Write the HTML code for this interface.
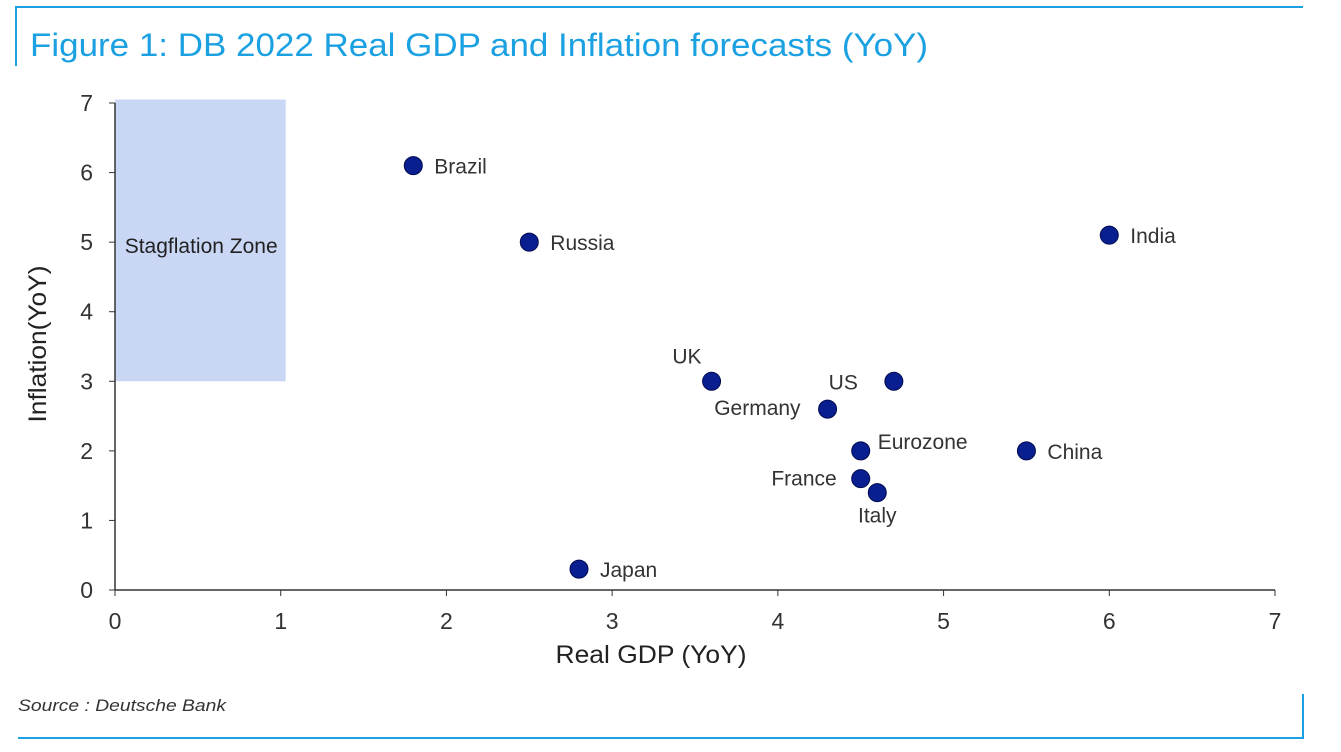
<!DOCTYPE html>
<html><head><meta charset="utf-8"><style>
body{margin:0;background:#fff;width:1341px;height:747px;overflow:hidden;font-family:"Liberation Sans",Arial,sans-serif}
</style></head><body>
<svg width="1341" height="747" xmlns="http://www.w3.org/2000/svg">
<line x1="15" y1="7" x2="1303" y2="7" stroke="#1ba1e2" stroke-width="2"/>
<line x1="16" y1="7" x2="16" y2="66" stroke="#1ba1e2" stroke-width="2"/>
<line x1="18" y1="738" x2="1304" y2="738" stroke="#1ba1e2" stroke-width="2"/>
<line x1="1303" y1="694" x2="1303" y2="738" stroke="#1ba1e2" stroke-width="2"/>
<text x="30" y="56" font-size="32" textLength="898" lengthAdjust="spacingAndGlyphs" fill="#1ba1e2">Figure 1: DB 2022 Real GDP and Inflation forecasts (YoY)</text>
<text x="18" y="711" font-size="17" textLength="208" lengthAdjust="spacingAndGlyphs" font-style="italic" fill="#333">Source : Deutsche Bank</text>
<g id="plot"></g>
</svg>
<script>
const names=["Brazil","Russia","India","UK","US","Germany","Eurozone","China","France","Italy","Japan"];
const gdp=[1.8,2.5,6.0,3.6,4.7,4.3,4.5,5.5,4.5,4.6,2.8];
const infl=[6.1,5.0,5.1,3.0,3.0,2.6,2.0,2.0,1.6,1.4,0.3];
const xTicks=[0,1,2,3,4,5,6,7];
const yTicks=[0,1,2,3,4,5,6,7];
const zone={x0:0,x1:1.03,y0:3,y1:7.05};
const X=v=>115+v*(1275-115)/7;
const Y=v=>590-v*(590-103)/7;
const ns="http://www.w3.org/2000/svg";
const g=document.getElementById('plot');
function mk(t,a,txt){const e=document.createElementNS(ns,t);for(const k in a)e.setAttribute(k,a[k]);if(txt!=null)e.textContent=txt;g.appendChild(e);return e;}
let r=mk('rect',{x:X(zone.x0),y:Y(zone.y1),width:X(zone.x1)-X(zone.x0),height:Y(zone.y0)-Y(zone.y1),fill:'#c9d7f5'});


let zt=mk('text',{x:X(0.52),y:Y(5)+11,'font-size':21,'text-anchor':'middle',fill:'#222'},'Stagflation Zone');


let ax=mk('line',{x1:X(0),y1:Y(0),x2:X(7),y2:Y(0),stroke:'#333','stroke-width':1.5});


let ay=mk('line',{x1:X(0),y1:Y(0),x2:X(0),y2:Y(7),stroke:'#333','stroke-width':1.5});


xTicks.forEach(t=>{mk('line',{x1:X(t),y1:Y(0),x2:X(t),y2:Y(0)+6,stroke:'#333'});
 let e=mk('text',{x:X(t),y:Y(0)+39,'font-size':23,'text-anchor':'middle',fill:'#333'},String(t));
 
 });
yTicks.forEach(t=>{mk('line',{x1:X(0)-6,y1:Y(t),x2:X(0),y2:Y(t),stroke:'#333'});
 let e=mk('text',{x:X(0)-22,y:Y(t)+8,'font-size':23,'text-anchor':'end',fill:'#333'},String(t));
 
 });
let xt=mk('text',{x:651,y:663,'font-size':25,textLength:191,lengthAdjust:'spacingAndGlyphs','text-anchor':'middle',fill:'#222'},'Real GDP (YoY)');


let yt=mk('text',{x:46,y:344,'font-size':25,textLength:157,lengthAdjust:'spacingAndGlyphs','text-anchor':'middle',fill:'#222',transform:'rotate(-90 46 344)'},'Inflation(YoY)');


const off={UK:[-10,-18,'end'],US:[-36,8,'end'],Germany:[-27,6,'end'],France:[-24,7,'end'],Italy:[0,30,'middle'],Eurozone:[17,-2,'start']};
names.forEach((n,i)=>{const cx=X(gdp[i]),cy=Y(infl[i]);
 let c=mk('circle',{cx,cy,r:9,fill:'#0a1f8f',stroke:'#000a50','stroke-width':1});
 
 
 const o=off[n]||[21,8,'start'];
 let l=mk('text',{x:cx+o[0],y:cy+o[1],'font-size':21,'text-anchor':o[2],fill:'#333'},n);
 
 });
</script>
</body></html>
